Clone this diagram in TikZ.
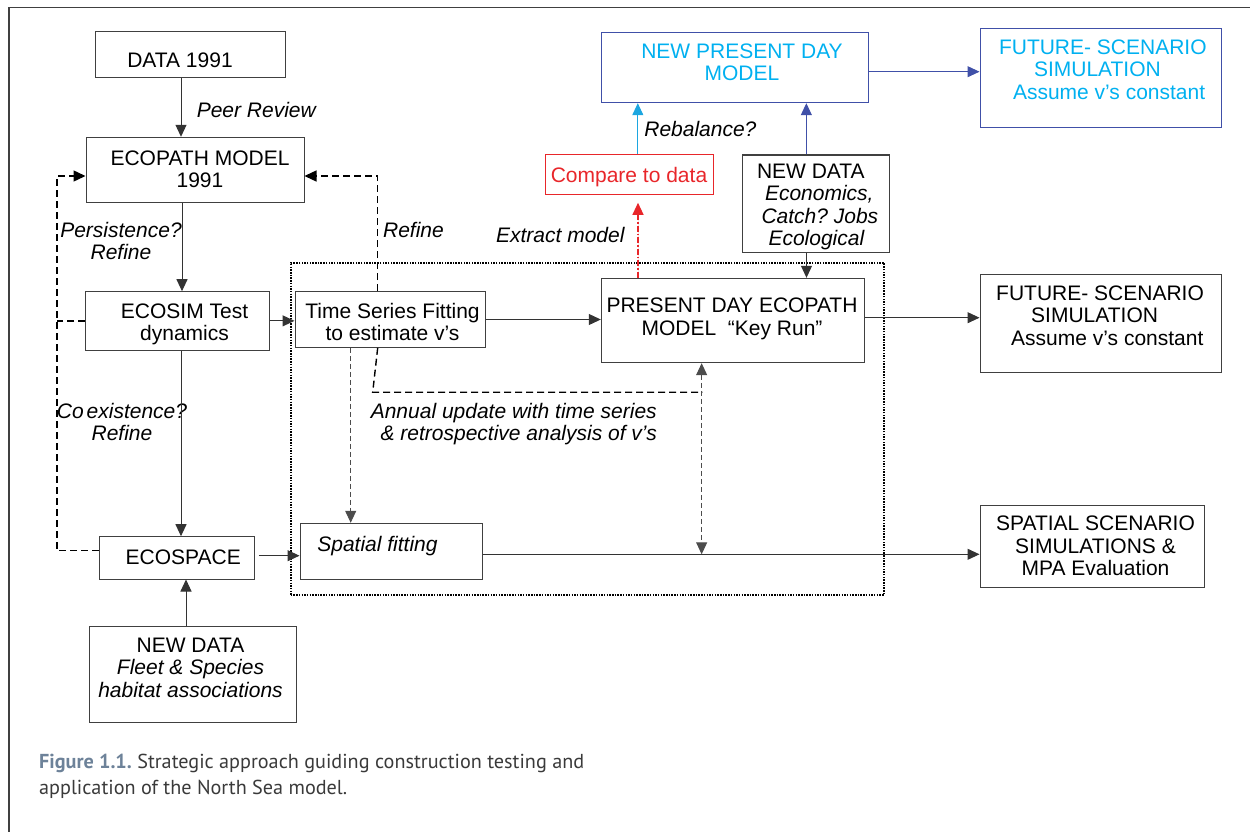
\documentclass[tikz,border=0pt]{standalone}
\usepackage{fontspec}
\setmainfont{Liberation Sans}
\newfontfamily\capfont{PT Sans}
\usetikzlibrary{arrows.meta}
\frenchspacing
\definecolor{cyantxt}{RGB}{0,176,240}
\definecolor{bluebox}{RGB}{64,80,168}
\definecolor{cyanarr}{RGB}{28,166,224}
\definecolor{redtxt}{RGB}{232,38,42}
\definecolor{capblue}{RGB}{109,130,153}
\definecolor{capgray}{RGB}{58,58,58}
\tikzset{
  box/.style={draw=black!75, line width=1pt, inner sep=0pt},
  txt/.style={inner sep=0pt, font=\fontsize{21}{22.5}\selectfont, align=center,
    execute at begin node=\strut, execute at end node=\strut},
  itxt/.style={txt, font=\fontsize{21}{22.5}\selectfont\itshape},
  tip/.tip={Triangle[length=12pt,width=11pt]},
  arr/.style={line width=1pt, draw=black!80, -tip},
  dashthick/.style={line width=1.4pt, draw=black, dash pattern=on 7pt off 4pt},
  dashthin/.style={line width=1pt, draw=black!70, dash pattern=on 5pt off 3pt},
  dotregion/.style={draw=black, line width=1.6pt, dash pattern=on 1.5pt off 1.2pt, inner sep=0pt},
}
\begin{document}
\frenchspacing
\begin{tikzpicture}[x=1pt,y=-1pt]
\useasboundingbox (0,0) rectangle (1250,832);
% frame
\draw[line width=1.5pt, black!75] (9,832) -- (9,7.3) -- (1250,7.3);

% dotted region
\node[dotregion, minimum width=593.3pt, minimum height=332.3pt] (region) at (587.35,428.85) {};

% boxes
\node[box, minimum width=190pt, minimum height=45.6pt] (data) at (190.7,54.5) {};
\node[box, minimum width=218pt, minimum height=65pt] (ecopath) at (195,169.8) {};
\node[box, minimum width=184pt, minimum height=58.3pt] (ecosim) at (177.7,320.85) {};
\node[box, minimum width=190.7pt, minimum height=55.6pt] (tsf) at (390.35,319.5) {};
\node[box, minimum width=262.7pt, minimum height=84.4pt] (present) at (732.65,320.5) {};
\node[box, minimum width=241.3pt, minimum height=98.4pt] (future) at (1100.65,323.5) {};
\node[box, minimum width=155pt, minimum height=42.3pt] (ecospace) at (176.8,557.85) {};
\node[box, minimum width=182pt, minimum height=55.7pt] (spatfit) at (391,551.15) {};
\node[box, minimum width=207pt, minimum height=95.6pt] (nd1) at (192.8,674.5) {};
\node[box, minimum width=224pt, minimum height=82.3pt] (spatial) at (1092,546.15) {};
\node[box, draw=bluebox, minimum width=266.7pt, minimum height=70.4pt] (newpresent) at (734.85,67.5) {};
\node[box, draw=bluebox, minimum width=241.6pt, minimum height=98.7pt] (bfuture) at (1100.8,78.35) {};
\node[box, draw=redtxt, minimum width=167.6pt, minimum height=40pt] (compare) at (629.4,174.3) {};
\node[box, minimum width=146.7pt, minimum height=97.3pt] (nd2) at (815.85,203.65) {};

% texts
\node[txt] (t-data) at (180,63) {DATA 1991};
\node[itxt] (t-peer) at (256.3,113) {Peer Review};
\node[txt] (t-ecopath) at (200,172.3) {ECOPATH MODEL\\1991};
\node[itxt] (t-persist) at (121,244.2) {Persistence?\\Refine};
\node[itxt] (t-refine) at (413.5,233) {Refine};
\node[txt] (t-ecosim) at (184.5,325.5) {ECOSIM Test\\dynamics};
\node[txt] (t-tsf) at (392.5,325.5) {Time Series Fitting\\to estimate v’s};
\node[itxt] (t-coex) at (122,425.2) {Co\kern3pt existence?\\Refine};
\node[itxt, align=right, anchor=east] (t-annual) at (657,425.5) {Annual update with time series\\\& retrospective analysis of v’s};
\node[txt] (t-present) at (732,320) {PRESENT DAY ECOPATH\\MODEL\ \ “Key Run”};
\node[txt, align=left, anchor=west] (t-future) at (996,319) {FUTURE- SCENARIO\\\hspace*{35pt}SIMULATION\\\hspace*{15pt}Assume v’s constant};
\node[itxt] (t-spatfit) at (377.5,547) {Spatial fitting};
\node[txt] (t-ecospace) at (183.3,559.7) {ECOSPACE};
\node[txt] (t-nd1) at (190.5,671.1) {NEW DATA\\\textit{Fleet \& Species}\\\textit{habitat associations}};
\node[txt] (t-spatial) at (1095.5,549.3) {SPATIAL SCENARIO\\SIMULATIONS \&\\MPA Evaluation};
\node[txt, text=cyantxt] (t-newpresent) at (742,65.6) {NEW PRESENT DAY\\MODEL};
\node[txt, text=cyantxt, align=left, anchor=west] (t-bfuture) at (998.8,73) {FUTURE- SCENARIO\\\hspace*{35pt}SIMULATION\\\hspace*{14pt}Assume v’s constant};
\node[itxt] (t-rebal) at (700.4,132.2) {Rebalance?};
\node[txt, text=redtxt] (t-compare) at (629,178) {Compare to data};
\node[txt, align=left, anchor=west] (t-nd2) at (756.8,208.1) {NEW DATA\\\hspace*{8pt}\textit{Economics,}\\\hspace*{4.5pt}\textit{Catch? Jobs}\\\hspace*{11.5pt}\textit{Ecological}};
\node[itxt, anchor=east] (t-extract) at (624.7,238) {Extract model};

% caption
\node[inner sep=0pt, anchor=west, align=left, text=capgray,
  font=\capfont\fontsize{20.2}{26.5}\selectfont,
  execute at begin node=\strut, execute at end node=\strut] (caption) at (39,778.3)
  {{\bfseries\color{capblue}Figure 1.1.} Strategic approach guiding construction testing and\\application of the North Sea model.};

% solid connectors
\draw[arr] ([xshift=-9.7pt]data.south) -- ([xshift=-9.7pt]data.south |- ecopath.north);
\draw[arr] ([xshift=-13pt]ecopath.south) -- ([xshift=-13pt]ecopath.south |- ecosim.north);
\draw[arr] ([xshift=3.3pt]ecosim.south) -- ([xshift=3.3pt]ecosim.south |- ecospace.north);
\draw[arr] ([xshift=-6.8pt]nd1.north) -- ([xshift=-6.8pt]nd1.north |- ecospace.south);
\draw[arr] (ecosim.east) -- (ecosim.east -| tsf.west);
\draw[arr] (tsf.east) -- (tsf.east -| present.west);
\draw[arr] ([yshift=2.8pt]present.east) -- ([yshift=2.8pt]present.east -| future.west);
\draw[arr, shorten <=4pt] ([yshift=2.15pt]ecospace.east) -- ([yshift=2.15pt]ecospace.east -| spatfit.west);
\draw[arr] ([yshift=-3.15pt]spatfit.east) -- ([yshift=-3.15pt]spatfit.east -| spatial.west);
\draw[arr] ([xshift=-9.35pt]nd2.south) -- ([xshift=-9.35pt]nd2.south |- present.north);
\draw[arr, draw=bluebox, fill=bluebox] ([xshift=-9.5pt]nd2.north) -- ([xshift=-9.5pt]nd2.north |- newpresent.south);
\draw[arr, draw=cyanarr, fill=cyanarr] ([xshift=8.4pt]compare.north) -- ([xshift=8.4pt]compare.north |- newpresent.south);
\draw[arr, draw=bluebox, fill=bluebox] ([yshift=-4.2pt]newpresent.east) -- ([yshift=-4.2pt]newpresent.east -| bfuture.west);
\draw[line width=1.2pt, draw=redtxt, fill=redtxt, dash pattern=on 6pt off 2pt on 1.5pt off 2pt, -tip, shorten >=8pt]
  ([xshift=-94.65pt]present.north) -- ([xshift=-94.65pt]present.north |- compare.south);

% dashed connectors
\draw[dashthick, -tip] ([yshift=7.2pt]ecospace.west) -- ++(-42,0) |- ([yshift=-6.2pt]ecopath.west);
\draw[dashthick] (ecosim.west) -- ++(-28.4,0);
\draw[dashthick, -tip] ([xshift=-12.65pt]tsf.north) |- ([yshift=-6.2pt]ecopath.east);
\draw[dashthick] ([xshift=-12.65pt]tsf.south) -- ++(-5,44.4) -- ++(329.6,0);
\draw[dashthin, -tip] ([xshift=-39.65pt]tsf.south) -- ([xshift=-39.65pt]tsf.south |- spatfit.north);
\coordinate (dtop) at ([xshift=-31pt]present.south);
\coordinate (dbot) at (701.65,554.3);
\draw[dashthin, tip-tip] (dtop) -- (dbot);
\end{tikzpicture}
\end{document}
